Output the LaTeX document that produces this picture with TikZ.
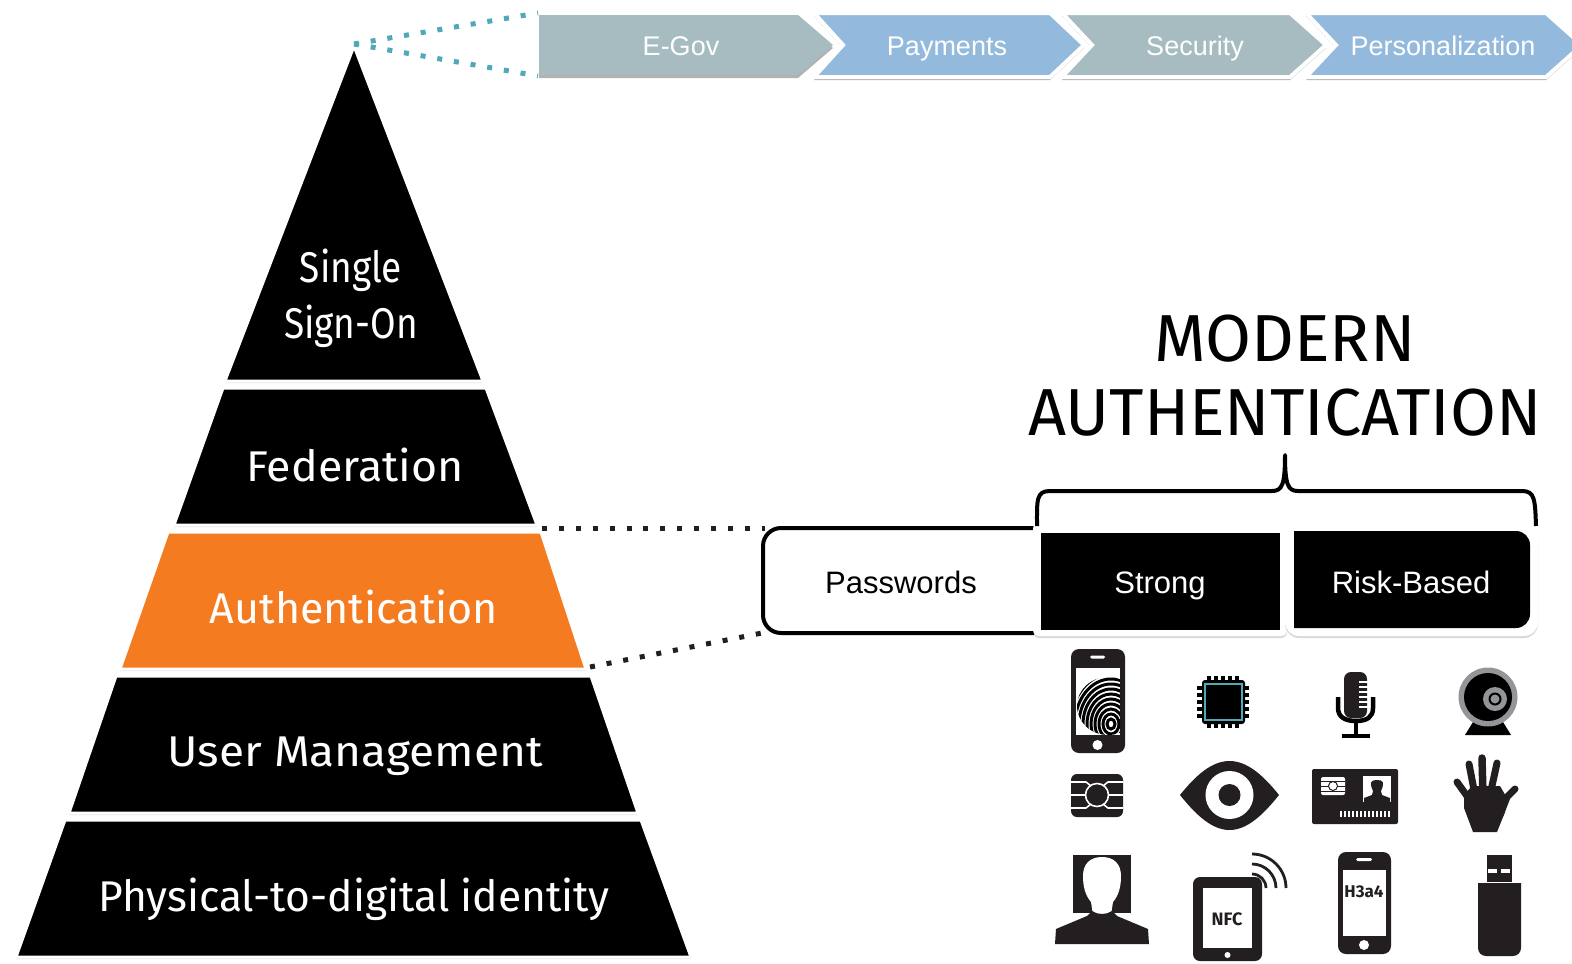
\documentclass[tikz,border=0pt]{standalone}
\usepackage{fontspec}
\setmainfont{Liberation Sans}
\newfontfamily\dinfont{Fira Sans}
\usetikzlibrary{shadows}
\definecolor{grey1}{HTML}{A6BCC0}
\definecolor{blue1}{HTML}{93BADC}
\definecolor{teal1}{HTML}{4FA9B8}
\definecolor{orange1}{HTML}{F47B20}
\definecolor{icon1}{HTML}{231F20}
\definecolor{lens1}{HTML}{939598}
\tikzset{
  softshadow/.style={drop shadow={shadow xshift=0pt,shadow yshift=-2pt,opacity=.15,fill=black}},
  band/.style={fill=#1,draw=white,line width=3pt,line join=miter,softshadow},
  bandtext/.style={text=white,font=\dinfont\fontsize{43}{43}\selectfont,text height=36pt,text depth=10pt,inner sep=0pt,transform shape},
  chevron/.style={fill=#1,draw=white,line width=4pt,drop shadow={shadow xshift=0pt,shadow yshift=-3pt,opacity=.3,fill=black}},
  chevtext/.style={text=white,font=\fontsize{27}{27}\selectfont,text height=24pt,text depth=4pt,inner sep=0pt},
  boxtext/.style={font=\fontsize{31}{31}\selectfont,text height=30pt,text depth=6pt,inner sep=0pt},
  headtext/.style={font=\dinfont\fontsize{66.5}{66.5}\selectfont,inner sep=0pt},
  icon/.style={fill=icon1},
  hole/.style={fill=white},
  dots/.style={dash pattern=on 5pt off 11.9pt,line width=5pt},
}
\begin{document}
\begin{tikzpicture}[x=1pt,y=-1pt,node distance=250pt]
  \useasboundingbox (0,0) rectangle (1572,964);
  \fill[white] (0,0) rectangle (1572,964);

  % chevrons
  \coordinate (egovnw) at (538,13);
  \coordinate (egovsw) at (538,76);
  \path[chevron=grey1,draw=none] (539,15) -- (798,15) -- (833,45) -- (798,75) -- (539,75) -- cycle;
  \path[chevron=grey1] (1062,13) -- (1290,13) -- (1326,45) -- (1290,77) -- (1062,77) -- (1092,45) -- cycle;
  \path[chevron=blue1] (814,13) -- (1050,13) -- (1084,45) -- (1050,77) -- (814,77) -- (843,45) -- cycle;
  \path[chevron=blue1] (1306,13) -- (1546,13) -- (1582,45) -- (1546,77) -- (1306,77) -- (1336,45) -- cycle;
  \node[chevtext] (egov) at (681,45) {E-Gov};
  \node[chevtext,right of=egov,node distance=266pt] (payments) {Payments};
  \node[chevtext,right of=payments,node distance=248pt] (security) {Security};
  \node[chevtext,right of=security,node distance=248pt] (personal) {Personalization};

  % pyramid
  \path[band=black] (354,46) -- (483,381) -- (225,381) -- cycle;
  \path[band=black] (223,388) -- (486,388) -- (537,525) -- (174,525) -- cycle;
  \path[band=black] (116,676) -- (591,676) -- (638,813) -- (69,813) -- cycle;
  \path[band=black] (65,820) -- (641,820) -- (691,957) -- (16,957) -- cycle;
  \path[band=orange1] (168,532) -- (541,532) -- (586,669) -- (120,669) -- cycle;
  \node[bandtext,xscale=.86,text height=,text depth=,align=center] (sso) at (351,298) {Single\\[13pt]Sign-On};
  \node[bandtext,xscale=1.04] (federation) at (355,468) {Federation};
  \node[bandtext] (auth) at (354,610) {Authentication};
  \node[bandtext,xscale=1.07] (usermgmt) at (355,753) {User Management};
  \node[bandtext,xscale=.99] (physical) at (354,898) {Physical-to-digital identity};

  % connectors
  \coordinate (apex) at (354,44);
  \coordinate (authne) at (542,528);
  \coordinate (authse) at (590,667);
  \coordinate (pwnw) at (765,528);
  \coordinate (pwsw) at (762,633);
  \draw[dots,teal1] (apex) -- (egovnw);
  \draw[dots,teal1] (apex) -- (egovsw);
  \draw[dots,icon1] (authne) -- (pwnw);
  \draw[dots,icon1] (authse) -- (pwsw);

  % methods
  \draw[line width=4pt,rounded corners=18pt] (1034,528) -- (763,528) -- (763,633) -- (1034,633);
  \node[boxtext] (passwords) at (901,581) {Passwords};
  \path[fill=white,rounded corners=6pt,softshadow] (1033,523) rectangle (1287,636);
  \path[fill=white,rounded corners=14pt,softshadow] (1285,523) rectangle (1538,636);
  \node[boxtext,fill=black,text=white,minimum width=239pt,minimum height=97pt] (strong) at (1160,581) {Strong};
  \fill[black] (1294,531) [rounded corners=14pt] -- (1530,531) -- (1530,628) [sharp corners] -- (1294,628) -- cycle;
  \node[boxtext,text=white] (riskbased) at (1411,581) {Risk-Based};

  % brace and heading
  \draw[line width=4pt,line join=round] (1037,526) .. controls (1037,500) and (1036,491) .. (1050,491) -- (1272,491)
    .. controls (1282,491) and (1285,485) .. (1285,455) .. controls (1285,485) and (1288,491) .. (1298,491) -- (1522,491)
    .. controls (1535,491) and (1535,500) .. (1536,526);
  \node[headtext] (modern) at (1285,339) {MODERN};
  \node[headtext] (modernauth) at (1285,413) {AUTHENTICATION};

  % fingerprint phone
  \fill[icon] (1071,649) [rounded corners=8pt] rectangle (1125,753);
  \fill[hole] (1076,668) rectangle (1120,735);
  \fill[hole,rounded corners=1.5pt] (1090,655.5) rectangle (1105,658.5);
  \fill[hole] (1097.5,745) circle (5);
  \begin{scope}
    \clip (1076,668) rectangle (1120,735);
    \clip (1108,706) ellipse (31 and 29);
    \foreach \r in {5,10,...,60}
      \draw[line width=3pt] (1111,724) ellipse ({\r*.8} and \r);
  \end{scope}

  % chip
  \foreach \p in {-14,-7,0,7,14} {
    \draw[line width=3.4pt] (1223+\p,676) -- (1223+\p,728);
    \draw[line width=3.4pt] (1197,702+\p) -- (1249,702+\p);
  }
  \fill[black,rounded corners=3pt] (1202,680) rectangle (1245,724);
  \draw[teal1,line width=1.6pt,fill=black] (1205,684) rectangle (1242,720);

  % chip card
  \fill[icon,rounded corners=6pt] (1071,774) rectangle (1123,817);
  \draw[white,line width=1.6pt] (1071,782) -- (1086,782) -- (1091,786) (1123,782) -- (1108,782) -- (1103,786)
    (1071,795) -- (1085,795) (1123,795) -- (1109,795)
    (1071,808) -- (1086,808) -- (1091,804) (1123,808) -- (1108,808) -- (1103,804);
  \draw[white,line width=1.6pt,fill=icon1] (1097,795) circle (11.5);

  % eye
  \fill[icon] (1180,795) .. controls (1196,775) and (1212,761) .. (1229.5,761) .. controls (1247,761) and (1263,775) .. (1279,795)
    .. controls (1263,815) and (1247,830) .. (1229.5,830) .. controls (1212,830) and (1196,815) .. (1180,795) -- cycle;
  \fill[hole] (1229.5,795) circle (24);
  \fill[icon] (1229.5,795) circle (11);

  % face
  \fill[icon] (1073,855) rectangle (1131,913);
  \fill[hole] (1102,857) .. controls (1090,857) and (1083,864) .. (1083,876) .. controls (1083,886) and (1085,895) .. (1091,902) -- (1093,915) -- (1111,915) -- (1113,902) .. controls (1119,895) and (1121,886) .. (1121,876) .. controls (1121,864) and (1114,857) .. (1102,857) -- cycle;
  \fill[icon] (1055,944) -- (1149,944) -- (1148,929) -- (1117,916) -- (1112,911) .. controls (1106,915) and (1098,915) .. (1092,911) -- (1087,916) -- (1056,929) -- cycle;

  % nfc tablet
  \fill[icon,rounded corners=7pt] (1193,877) rectangle (1262,961);
  \fill[hole] (1203,888) rectangle (1252,948);
  \fill[hole] (1227.5,955) circle (3);
  \node[font=\dinfont\bfseries\fontsize{18}{18}\selectfont,inner sep=0pt,text=icon1] (nfc) at (1227,919) {NFC};
  \foreach \r in {14,24,34}
    \draw[icon1,line width=2.8pt] (1252+\r,888) arc[start angle=0,end angle=90,radius=\r pt];

  % microphone
  \fill[icon,rounded corners=7pt] (1344,672) rectangle (1367,718);
  \foreach \y in {682,687,...,707}
    \draw[white,line width=1.4pt] (1359,\y) -- (1368,\y);
  \draw[line width=4.5pt] (1338,697) -- (1338,708) .. controls (1338,717) and (1345,721) .. (1356,721) .. controls (1367,721) and (1373,717) .. (1373,708) -- (1373,697);
  \draw[line width=4.5pt] (1356,721) -- (1356,736);
  \draw[line width=4.5pt] (1342,736) -- (1370,736);

  % webcam
  \fill[black] (1465,735) -- (1511,735) -- (1503,722) -- (1473,722) -- cycle;
  \fill[lens1] (1488,697) circle (29.5);
  \fill[black] (1488,697) circle (24);
  \fill[lens1] (1495,699) circle (12);
  \fill[black] (1495,699) circle (6.5);
  \fill[lens1] (1495,699) circle (4.5);

  % id card
  \fill[icon,rounded corners=2pt] (1312,769) rectangle (1398,824);
  \fill[hole,rounded corners=2pt] (1321,777) rectangle (1345,795);
  \draw[icon1,line width=1pt] (1321,781) -- (1345,781) (1321,786) -- (1345,786) (1321,791) -- (1345,791);
  \draw[icon1,line width=1pt,fill=white] (1333,786) circle (4.5);
  \fill[hole] (1363,776) rectangle (1391,802);
  \fill[icon] (1364,802) -- (1364,798) -- (1372,795) -- (1373,791) .. controls (1369,782) and (1371,780) .. (1377,780) .. controls (1383,780) and (1385,782) .. (1381,791) -- (1382,795) -- (1390,798) -- (1390,802) -- cycle;
  \foreach \x in {1341,1345,...,1389}
    \draw[white,line width=1.8pt] (\x,811) -- (\x,817);

  % hand
  \fill[icon] (1464,795) -- (1472,786) -- (1500,786) -- (1507,798) -- (1505,812) -- (1497,832) -- (1473,832) -- (1464,808) -- cycle;
  \draw[icon1,line width=7pt,line cap=round] (1457,782) -- (1472,803);
  \draw[icon1,line width=7pt,line cap=round] (1469,764) -- (1475,795);
  \draw[icon1,line width=7.5pt,line cap=round] (1482,758) -- (1483,795);
  \draw[icon1,line width=7pt,line cap=round] (1497,763) -- (1490,795);
  \draw[icon1,line width=7pt,line cap=round,line join=round] (1515,789) -- (1507,797) -- (1500,815);

  % h3a4 phone
  \fill[icon,rounded corners=8pt] (1338,852) rectangle (1391,954);
  \fill[hole] (1343,870) rectangle (1386,936);
  \fill[hole,rounded corners=1.5pt] (1356,858) rectangle (1372,861);
  \fill[hole] (1364,945) circle (5);
  \node[font=\dinfont\bfseries\fontsize{17}{17}\selectfont,inner sep=0pt,text=icon1] (h3a4) at (1364,892) {H3a4};

  % usb stick
  \fill[icon] (1487,855) rectangle (1512,882);
  \fill[hole] (1488,869) rectangle (1497,873);
  \fill[hole] (1501,869) rectangle (1510,873);
  \fill[icon] (1478,883) -- (1521,883) -- (1521,948) [rounded corners=8pt] -- (1521,956) -- (1478,956) [sharp corners] -- (1478,948) -- cycle;
\end{tikzpicture}
\end{document}
